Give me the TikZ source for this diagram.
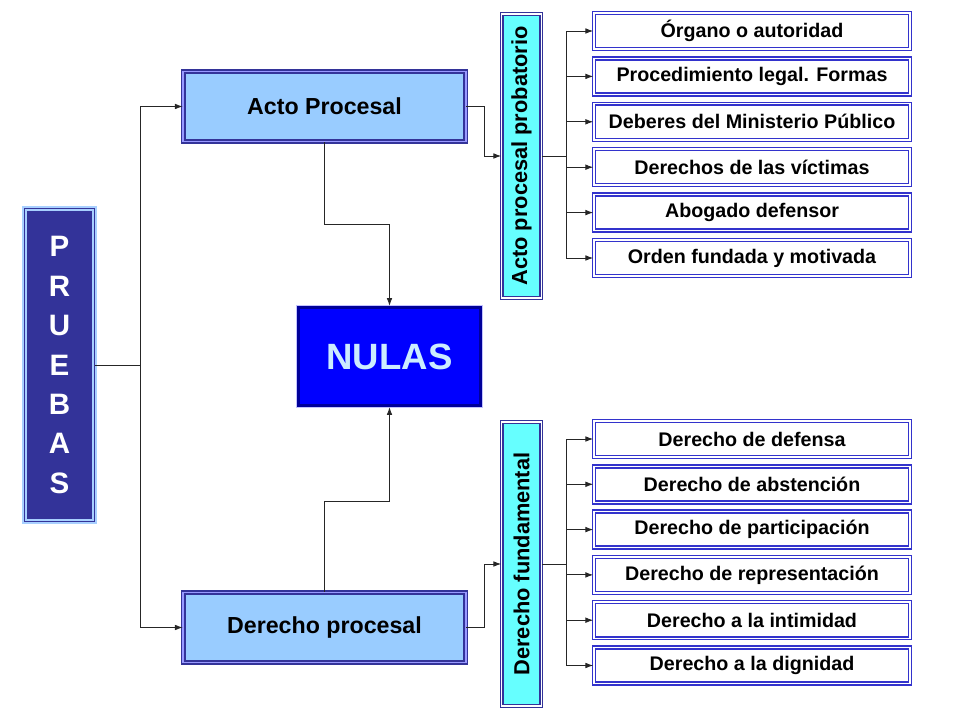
\documentclass[tikz,border=0pt]{standalone}
\usepackage{fontspec}
\setmainfont{Liberation Sans}
\usepackage{graphicx}
\usetikzlibrary{arrows.meta}
\definecolor{navyline}{HTML}{333399}
\definecolor{pruebasfill}{HTML}{333399}
\definecolor{paleframe}{HTML}{A8D0FF}
\definecolor{procfill}{HTML}{99CCFF}
\definecolor{lilac}{HTML}{9999FF}
\definecolor{nulasfill}{HTML}{0000FF}
\definecolor{nulasframe}{HTML}{000099}
\definecolor{nulastext}{HTML}{CCECFF}
\definecolor{cyanfill}{HTML}{66FFFF}
\definecolor{boxline}{HTML}{3333CC}
\begin{document}
\begin{tikzpicture}[x=0.025cm,y=-0.025cm,
  conn/.style={draw=black!85, line width=0.6pt},
  arr/.style={conn, -{Latex[length=5.5pt,width=4pt]}},
  procbox/.style={draw=navyline, double=lilac, double distance=1.4pt, line width=1.1pt,
    fill=procfill, minimum width=7.05cm, minimum height=1.75cm,
    font=\fontsize{16.5}{19}\selectfont\bfseries},
  vertbox/.style={draw=navyline, double=white, double distance=0.8pt, line width=1pt,
    fill=cyanfill, minimum width=0.98cm, minimum height=7.1cm, inner sep=0pt,
    font=\fontsize{15.5}{18}\selectfont\bfseries},
  itembox/.style={draw=boxline, double=white, double distance=1pt, line width=1.1pt,
    fill=white, minimum width=7.9cm, minimum height=0.9cm, inner sep=0pt,
    font=\fontsize{14}{16}\selectfont\bfseries}]
  \useasboundingbox (0,0) rectangle (960,720);
  % Root
  \node[draw=paleframe, double=navyline, double distance=0.7pt, line width=1.4pt,
    fill=pruebasfill, text=white, minimum width=1.75cm, minimum height=7.8cm,
    align=center, font=\fontsize{21}{28}\selectfont\bfseries]
    (pruebas) at (59.5,365) {P\\R\\U\\E\\B\\A\\S};
  % Procedural nodes
  \node[procbox] (acto) at (324.5,106.5) {Acto Procesal};
  \node[procbox] (dproc) at (324.5,627.5) {Derecho procesal};
  % Result
  \node[preaction={draw=lilac!60, line width=4pt}, draw=nulasframe, line width=2.4pt,
    fill=nulasfill, text=nulastext, minimum width=4.55cm, minimum height=2.45cm,
    font=\fontsize{26}{30}\selectfont\bfseries] (nulas) at (389.5,356.5) {NULAS};
  % Vertical headers
  \node[vertbox] (apb) at (521.5,156) {\rotatebox{90}{Acto procesal probatorio}};
  \node[vertbox] (dfu) at (521.5,564) {\rotatebox{90}{Derecho fundamental}};
  % Items
  \foreach \txt [count=\i from 0] in {Órgano o autoridad, Procedimiento legal. Formas,
      Deberes del Ministerio Público, Derechos de las víctimas, Abogado defensor,
      Orden fundada y motivada}
    \node[itembox] (up\i) at (752,31+45.4*\i) {\txt};
  \foreach \txt [count=\i from 0] in {Derecho de defensa, Derecho de abstención,
      Derecho de participación, Derecho de representación, Derecho a la intimidad,
      Derecho a la dignidad}
    \node[itembox] (lo\i) at (752,439+45.3*\i) {\txt};
  % Connectors from the root
  \draw[conn] (pruebas.east) -- (140,365) coordinate (jroot);
  \draw[arr] (jroot) |- (acto.west);
  \draw[arr] (jroot) |- (dproc.west);
  % Into NULAS
  \draw[arr] (acto.south) -- ++(0,82) -| (nulas.north);
  \draw[arr] (dproc.north) -- ++(0,-90) -| (nulas.south);
  % Into the vertical headers
  \draw[arr] (acto.east) -- ++(18,0) |- (apb.west);
  \draw[arr] (dproc.east) -- ++(18,0) |- (dfu.west);
  % Branches
  \draw[conn] (apb.east) -- ++(25,0) coordinate (jup);
  \draw[conn] (dfu.east) -- ++(25,0) coordinate (jlo);
  \foreach \i in {0,...,5}{
    \draw[arr] (jup) |- (up\i.west);
    \draw[arr] (jlo) |- (lo\i.west);
  }
\end{tikzpicture}
\end{document}
